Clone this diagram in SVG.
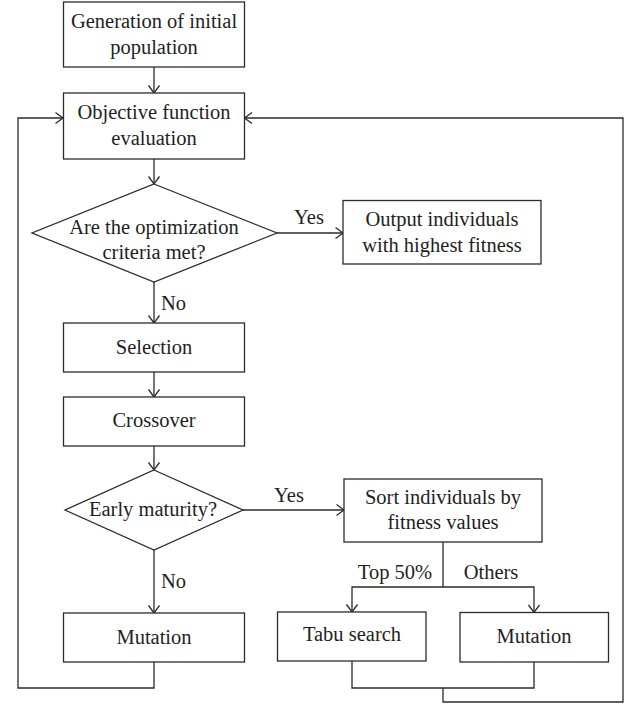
<svg xmlns="http://www.w3.org/2000/svg" width="633" height="704" viewBox="0 0 633 704" font-family="'Liberation Serif', 'DejaVu Serif', serif">
<style>
.n{fill:#fff;stroke:#2b2b2b;stroke-width:1.3}
.c{fill:none;stroke:#2b2b2b;stroke-width:1.3}
text{font-family:'Liberation Serif','DejaVu Serif',serif;font-size:20.5px;fill:#231f20}
.m{text-anchor:middle}
</style>
<defs>
<marker id="ah" markerUnits="userSpaceOnUse" markerWidth="14" markerHeight="14" refX="0" refY="0" viewBox="-10 -7 12 14" orient="auto">
<path d="M-7.5,-5.5 L0,0 L-7.5,5.5" fill="none" stroke="#2b2b2b" stroke-width="1.3"/>
</marker>
</defs>
<rect width="633" height="704" fill="#fff"/>
<g id="connectors">
<path class="c" d="M154,67 V93" marker-end="url(#ah)"/>
<path class="c" d="M154,159 V184" marker-end="url(#ah)"/>
<path class="c" d="M277,233 H343" marker-end="url(#ah)"/>
<path class="c" d="M154,282 V323" marker-end="url(#ah)"/>
<path class="c" d="M154,372 V397" marker-end="url(#ah)"/>
<path class="c" d="M154,446 V470" marker-end="url(#ah)"/>
<path class="c" d="M243,510 H344" marker-end="url(#ah)"/>
<path class="c" d="M154,550 V613" marker-end="url(#ah)"/>
<path class="c" d="M443,542 V587"/>
<path class="c" d="M443,587 H352 V612" marker-end="url(#ah)"/>
<path class="c" d="M443,587 H534 V612.5" marker-end="url(#ah)"/>
<path class="c" d="M154,662 V688 H18 V118 H63" marker-end="url(#ah)"/>
<path class="c" d="M352,661 V688 H534 V662"/>
<path class="c" d="M443,688 V702 H623 V118 H244.5" marker-end="url(#ah)"/>
<text class="m" x="309" y="224">Yes</text>
<text x="161" y="310">No</text>
<text class="m" x="289" y="502">Yes</text>
<text x="161" y="588">No</text>
<text class="m" x="395" y="579">Top 50%</text>
<text class="m" x="491" y="579">Others</text>
</g>
<g id="n1">
<rect class="n" x="63.5" y="2" width="181" height="65"/>
<text class="m" x="154" y="27.5">Generation of initial</text>
<text class="m" x="154" y="53.5">population</text>
</g>
<g id="n2">
<rect class="n" x="63.5" y="93" width="181" height="66"/>
<text class="m" x="154" y="118.5">Objective function</text>
<text class="m" x="154" y="145">evaluation</text>
</g>
<g id="n3">
<polygon class="n" points="154,184 277,233 154,282 32,233"/>
<text class="m" x="154" y="234">Are the optimization</text>
<text class="m" x="154" y="259">criteria met?</text>
</g>
<g id="n4">
<rect class="n" x="343" y="200.5" width="198" height="63.5"/>
<text class="m" x="442" y="226">Output individuals</text>
<text class="m" x="442" y="252">with highest fitness</text>
</g>
<g id="n5">
<rect class="n" x="63.5" y="323" width="181" height="49"/>
<text class="m" x="154" y="353.5">Selection</text>
</g>
<g id="n6">
<rect class="n" x="63.5" y="397" width="181" height="49"/>
<text class="m" x="154" y="426.5">Crossover</text>
</g>
<g id="n7">
<polygon class="n" points="154,470 243,510 154,550 65,510"/>
<text class="m" x="153" y="515.5">Early maturity?</text>
</g>
<g id="n8">
<rect class="n" x="344" y="479" width="198" height="63"/>
<text class="m" x="443" y="503.5">Sort individuals by</text>
<text class="m" x="443" y="528.5">fitness values</text>
</g>
<g id="n9">
<rect class="n" x="63.5" y="613" width="181" height="49"/>
<text class="m" x="154" y="643.5">Mutation</text>
</g>
<g id="n10">
<rect class="n" x="277.5" y="612" width="148.5" height="49"/>
<text class="m" x="352" y="641">Tabu search</text>
</g>
<g id="n11">
<rect class="n" x="460" y="612.5" width="148.5" height="49.5"/>
<text class="m" x="534" y="643">Mutation</text>
</g>
</svg>
